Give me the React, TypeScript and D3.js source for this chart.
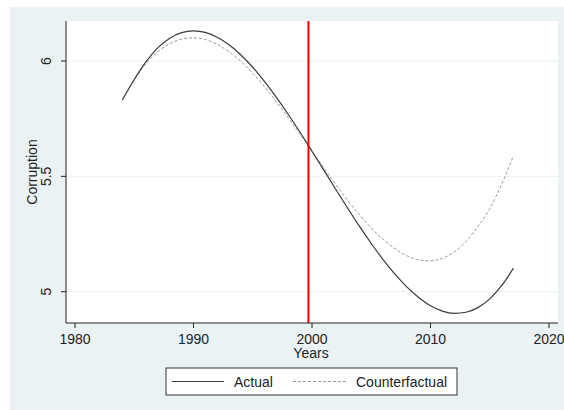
import React from "react";
import * as d3 from "d3";

// Annual series, 1984–2017
const years: number[] = [
  1984, 1985, 1986, 1987, 1988, 1989, 1990, 1991, 1992, 1993, 1994, 1995,
  1996, 1997, 1998, 1999, 2000, 2001, 2002, 2003, 2004, 2005, 2006, 2007,
  2008, 2009, 2010, 2011, 2012, 2013, 2014, 2015, 2016, 2017,
];
const actual: number[] = [
  5.832, 5.92, 5.997, 6.058, 6.099, 6.123, 6.131, 6.124, 6.103, 6.07, 6.026,
  5.973, 5.911, 5.842, 5.768, 5.69, 5.609, 5.527, 5.444, 5.363, 5.284, 5.209,
  5.139, 5.076, 5.021, 4.975, 4.939, 4.916, 4.906, 4.911, 4.931, 4.969, 5.026,
  5.102,
];
const counterfactual: number[] = [
  5.83, 5.918, 5.99, 6.04, 6.075, 6.095, 6.1, 6.093, 6.072, 6.04, 5.998, 5.946,
  5.888, 5.823, 5.754, 5.683, 5.61, 5.537, 5.465, 5.397, 5.334, 5.276, 5.227,
  5.186, 5.156, 5.138, 5.134, 5.145, 5.172, 5.218, 5.283, 5.36, 5.465, 5.59,
];
const treatmentYear = 1999.7;
const xTicks: number[] = [1980, 1990, 2000, 2010, 2020];
const yTicks: number[] = [5, 5.5, 6];
const seriesNames: string[] = ["Actual", "Counterfactual"];

const W = 564;
const H = 410;
const BG = "#eaf2f3";
const FONT = "'Liberation Sans', Arial, sans-serif";
const INK = "#222";

const plot = { left: 66, right: 558, top: 21, bottom: 323 };

export default function App() {
  const x = d3.scaleLinear().domain([1980, 2020]).range([75, 549]);
  const y = d3.scaleLinear().domain([5, 6]).range([291.7, 61]);

  const line = d3
    .line<number>()
    .x((_, i) => x(years[i]))
    .y((v) => y(v))
    .curve(d3.curveMonotoneX);

  return (
    <svg
      width={W}
      height={H}
      style={{ position: "absolute", left: 0, top: 0, background: "#fff" }}
      fontFamily={FONT}
    >
      <rect x={10} y={7} width={W - 10} height={H - 7} fill={BG} />
      <rect
        x={plot.left}
        y={plot.top}
        width={plot.right - plot.left}
        height={plot.bottom - plot.top}
        fill="#fff"
      />
      {/* horizontal grid */}
      {yTicks.map((t) => (
        <line
          key={"g" + t}
          x1={plot.left}
          x2={plot.right}
          y1={y(t)}
          y2={y(t)}
          stroke={BG}
          strokeWidth={1}
        />
      ))}

      {/* series */}
      <path
        d={line(counterfactual) || ""}
        fill="none"
        stroke="#9a9a9a"
        strokeWidth={1}
        strokeDasharray="3,2"
      />
      <path d={line(actual) || ""} fill="none" stroke="#3a3a3a" strokeWidth={1.2} />

      {/* treatment marker */}
      <line
        x1={x(treatmentYear)}
        x2={x(treatmentYear)}
        y1={plot.top}
        y2={plot.bottom}
        stroke="#ff0000"
        strokeWidth={2}
      />

      {/* y axis */}
      <line x1={plot.left} x2={plot.left} y1={plot.top} y2={plot.bottom} stroke={INK} strokeWidth={1} />
      {yTicks.map((t) => (
        <g key={"y" + t}>
          <line x1={plot.left - 5} x2={plot.left} y1={y(t)} y2={y(t)} stroke={INK} />
          <text
            transform={`translate(51,${y(t)}) rotate(-90)`}
            textAnchor="middle"
            fontSize={14}
            fill={INK}
          >
            {d3.format("")(t)}
          </text>
        </g>
      ))}
      <text
        transform={`translate(37,172) rotate(-90)`}
        textAnchor="middle"
        fontSize={14}
        fill={INK}
      >
        Corruption
      </text>

      {/* x axis */}
      <line x1={plot.left} x2={plot.right} y1={plot.bottom} y2={plot.bottom} stroke={INK} strokeWidth={1} />
      {xTicks.map((t) => (
        <g key={"x" + t}>
          <line x1={x(t)} x2={x(t)} y1={plot.bottom} y2={plot.bottom + 5} stroke={INK} />
          <text x={x(t)} y={343.5} textAnchor="middle" fontSize={14} fill={INK}>
            {t}
          </text>
        </g>
      ))}
      <text x={311} y={358} textAnchor="middle" fontSize={14} fill={INK}>
        Years
      </text>

      {/* legend */}
      <rect x={166} y={368} width={291} height={27} fill="#fff" stroke="#333" strokeWidth={1} />
      <line x1={172} x2={224} y1={381.5} y2={381.5} stroke="#3a3a3a" strokeWidth={1.2} />
      <text x={234} y={387} fontSize={14} fill={INK}>
        {seriesNames[0]}
      </text>
      <line
        x1={293}
        x2={346}
        y1={381.5}
        y2={381.5}
        stroke="#9a9a9a"
        strokeWidth={1}
        strokeDasharray="3,2"
      />
      <text x={356} y={387} fontSize={14} fill={INK}>
        {seriesNames[1]}
      </text>
    </svg>
  );
}
